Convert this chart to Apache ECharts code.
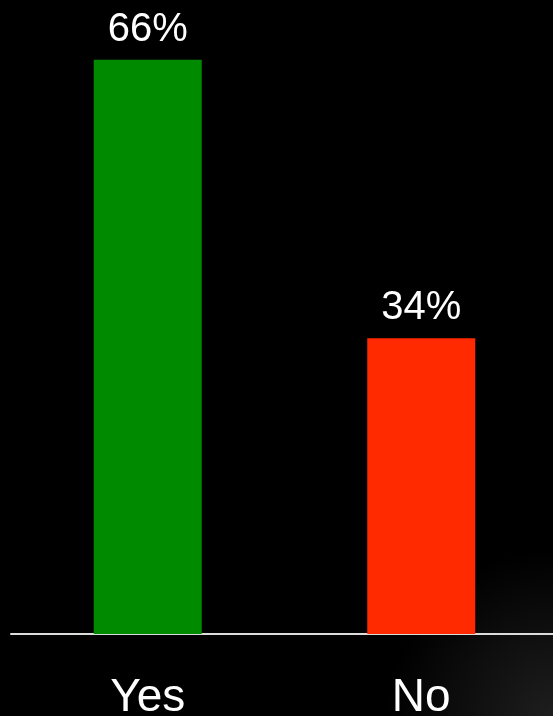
<!DOCTYPE html>
<html><head><meta charset="utf-8">
<script src="https://cdn.jsdelivr.net/npm/echarts@6/dist/echarts.min.js"></script>
<style>html,body{margin:0;padding:0;background:#000}#c{width:553px;height:716px}</style>
</head><body><div id="c"></div>
<script>
const categories = ['Yes', 'No'];
const values = [66, 34];
const barColors = ['#008a00', '#ff2a00'];

const chart = echarts.init(document.getElementById('c'));
chart.setOption({
  backgroundColor: {type:'radial', x:1, y:1, r:0.3, colorStops:[{offset:0,color:'#1e1e1e'},{offset:1,color:'#000'}]},
  animation: false,
  grid: {left: 11, right: -5, top: 25, bottom: 82, outerBoundsMode: 'none', containLabel: false},
  xAxis: {
    type: 'category', data: categories,
    axisLine: {lineStyle: {color: '#dcdcdc', width: 2}},
    axisTick: {show: false},
    axisLabel: {color: '#fff', fontSize: 46, fontFamily: 'Liberation Sans Narrow, Liberation Sans, Arial', margin: 41}
  },
  yAxis: {type: 'value', min: 0, max: 70, show: false, splitLine: {show: false}},
  series: [{
    type: 'bar', barWidth: 108,
    data: values.map((v, i) => ({value: v, itemStyle: {color: barColors[i]}})),
    label: {show: true, position: 'top', distance: 10, color: '#fff', fontSize: 40,
      fontFamily: 'Liberation Sans Narrow, Liberation Sans, Arial', formatter: '{c}%'}
  }]
});
</script></body></html>
